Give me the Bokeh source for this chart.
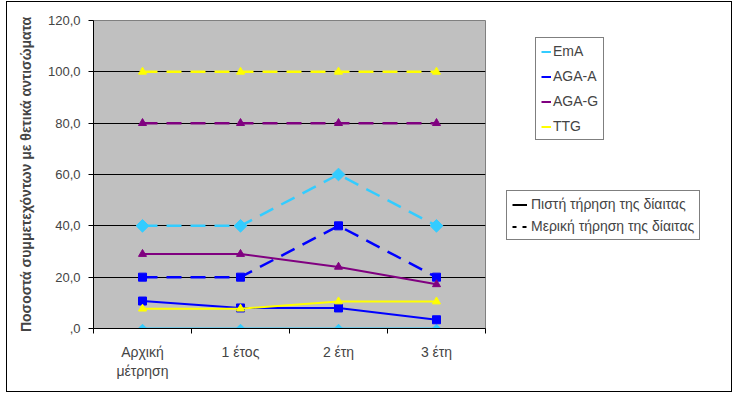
import numpy as np
from bokeh.plotting import figure
from bokeh.layouts import row
from bokeh.models import Range1d, FixedTicker, Legend, LegendItem, ColumnDataSource
from bokeh.embed import file_html
from bokeh.resources import INLINE

# ---- data ----
categories = ["Αρχική\nμέτρηση", "1 έτος", "2 έτη", "3 έτη"]
series_names = ["EmA", "AGA-A", "AGA-G", "TTG"]
series_colors = ["#33CCFF", "#0000FF", "#800080", "#FFFF00"]
series_markers = ["diamond", "square", "triangle", "triangle"]

# Πιστή τήρηση της δίαιτας (solid)
strict_ema = [0.0, 0.0, 0.0, 0.0]
strict_aga_a = [10.7, 8.0, 8.0, 3.4]
strict_aga_g = [29.0, 29.0, 24.0, 17.2]
strict_ttg = [7.7, 7.7, 10.5, 10.5]

# Μερική τήρηση της δίαιτας (dashed)
partial_ema = [40.0, 40.0, 60.0, 40.0]
partial_aga_a = [20.0, 20.0, 40.0, 20.0]
partial_aga_g = [80.0, 80.0, 80.0, 80.0]
partial_ttg = [100.0, 100.0, 100.0, 100.0]

y_ticks = [0, 20, 40, 60, 80, 100, 120]
y_tick_labels = [",0", "20,0", "40,0", "60,0", "80,0", "100,0", "120,0"]
y_label = "Ποσοστά συμμετεχόντων με θετικά αντισώματα"
adherence_labels = ["Πιστή τήρηση της δίαιτας", "Μερική τήρηση της δίαιτας"]

FONT = "Liberation Sans"
H = 389

x = list(range(1, len(categories) + 1))

p = figure(width=480, height=H,
           x_range=Range1d(0.5, len(categories) + 0.5),
           y_range=Range1d(0, 120),
           output_backend="svg", toolbar_location=None,
           min_border_left=86, min_border_right=2,
           min_border_top=18, min_border_bottom=63)
p.background_fill_color = "#C0C0C0"
p.border_fill_color = "white"
p.outline_line_color = "#808080"
p.outline_line_width = 1

# grid
p.xgrid.visible = False
p.ygrid.ticker = FixedTicker(ticks=y_ticks[1:-1])
p.ygrid.grid_line_color = "black"
p.ygrid.grid_line_width = 1

# y axis
p.yaxis.ticker = FixedTicker(ticks=y_ticks)
p.yaxis.major_label_overrides = dict(zip(y_ticks, y_tick_labels))
p.yaxis.major_tick_in = 0
p.yaxis.major_tick_out = 5
p.yaxis.minor_tick_line_color = None
p.yaxis.axis_line_color = "black"
p.yaxis.major_label_text_font = FONT
p.yaxis.major_label_text_font_size = "13px"
p.yaxis.major_label_standoff = 8
p.yaxis.axis_label = y_label
p.yaxis.axis_label_text_font = FONT
p.yaxis.axis_label_text_font_style = "bold"
p.yaxis.axis_label_text_font_size = "14px"
p.yaxis.axis_label_standoff = 11

# x axis
minor = [v - 0.5 for v in x] + [x[-1] + 0.5]
p.xaxis.ticker = FixedTicker(ticks=x, minor_ticks=minor)
p.xaxis.major_label_overrides = dict(zip(x, categories))
p.xaxis.major_tick_in = 0
p.xaxis.major_tick_out = 0
p.xaxis.major_tick_line_color = None
p.xaxis.minor_tick_in = 0
p.xaxis.minor_tick_out = 5
p.xaxis.minor_tick_line_color = "black"
p.xaxis.axis_line_color = "black"
p.xaxis.major_label_text_font = FONT
p.xaxis.major_label_text_font_size = "14px"
p.xaxis.major_label_standoff = 10

strict = [strict_ema, strict_aga_a, strict_aga_g, strict_ttg]
partial = [partial_ema, partial_aga_a, partial_aga_g, partial_ttg]

marker_sizes_partial = [9, 8, 8, 8]
marker_sizes_strict = [6, 8, 8, 8]


def draw(vals, color, marker, ms, width, dash):
    src = ColumnDataSource(dict(x=x, y=vals))
    p.line("x", "y", source=src, line_color=color, line_width=width, line_dash=dash)
    angle = np.pi / 4 if marker == "diamond" else 0
    mk = "square" if marker == "diamond" else marker
    p.scatter("x", "y", source=src, marker=mk, size=ms, angle=angle,
              fill_color=color, line_color=color)


for vals, color, marker, ms in zip(partial, series_colors, series_markers, marker_sizes_partial):
    draw(vals, color, marker, ms, 2.5, "15 9")
for vals, color, marker, ms in zip(strict, series_colors, series_markers, marker_sizes_strict):
    draw(vals, color, marker, ms, 2, "solid")

# ---- legend panel (right part of the chart area) ----
q = figure(width=244, height=H, x_range=Range1d(0, 1), y_range=Range1d(0, 1),
           output_backend="svg", toolbar_location=None,
           x_axis_type=None, y_axis_type=None,
           min_border_left=0, min_border_right=0, min_border_top=0, min_border_bottom=0)
q.outline_line_color = None
q.background_fill_color = "white"
q.border_fill_color = "white"
q.xgrid.visible = False
q.ygrid.visible = False


def sample(color, dash="solid"):
    # legend key only: a line with no visible point
    src = ColumnDataSource(dict(x=[np.nan], y=[np.nan]))
    return q.line("x", "y", source=src, line_color=color, line_width=2, line_dash=dash)


series_samples = [sample(c) for c in series_colors]
r_solid = sample("black")
r_dash = sample("black", "4 6")

leg1 = Legend(items=[LegendItem(label=n, renderers=[r]) for n, r in zip(series_names, series_samples)],
              location=(48, 188))
leg1.label_text_font = FONT
leg1.label_text_font_size = "14px"
leg1.glyph_width = 10
leg1.glyph_height = 15
leg1.label_height = 15
leg1.label_standoff = 2
leg1.spacing = 9
leg1.padding = 5
leg1.margin = 0
leg1.border_line_color = "black"
leg1.border_line_width = 1
leg1.background_fill_color = "white"
leg1.background_fill_alpha = 1
q.add_layout(leg1)

leg2 = Legend(items=[LegendItem(label=adherence_labels[0], renderers=[r_solid]),
                     LegendItem(label=adherence_labels[1], renderers=[r_dash])],
              location=(19, 88))
leg2.label_text_font = FONT
leg2.label_text_font_size = "14px"
leg2.glyph_width = 15
leg2.glyph_height = 15
leg2.label_height = 15
leg2.label_standoff = 4
leg2.spacing = 6
leg2.padding = 5
leg2.margin = 0
leg2.border_line_color = "black"
leg2.border_line_width = 1
leg2.background_fill_color = "white"
leg2.background_fill_alpha = 1
q.add_layout(leg2)

layout = row(p, q)
layout.styles = {"border": "1px solid black", "margin-left": "6px", "margin-top": "1px"}

open("out.html", "w").write(file_html(layout, INLINE))
